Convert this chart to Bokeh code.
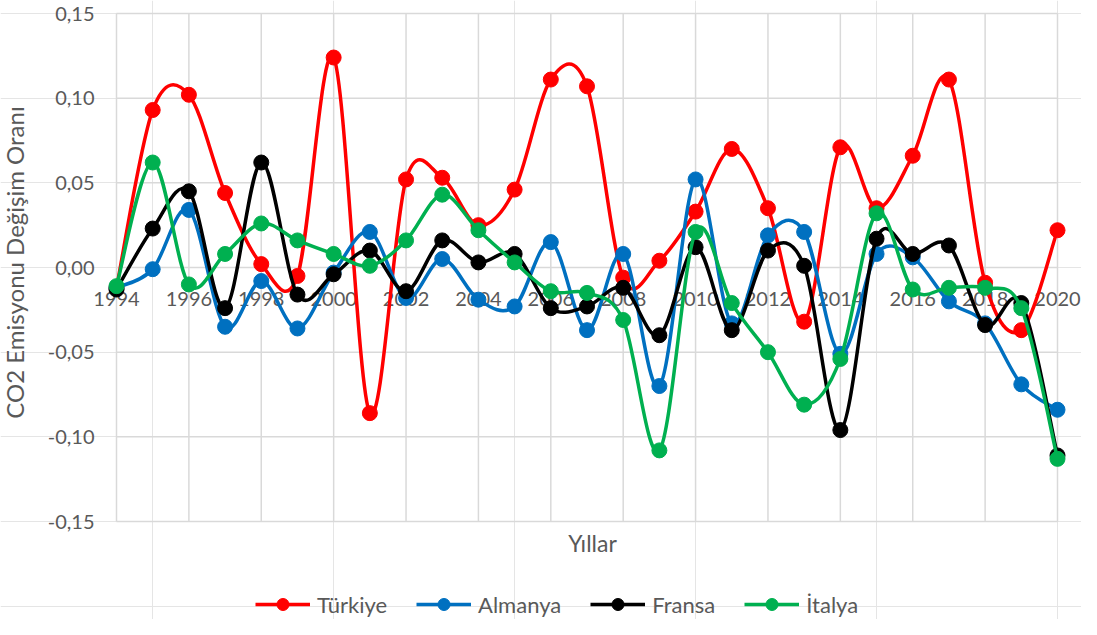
import numpy as np
from bokeh.plotting import figure
from bokeh.models import (ColumnDataSource, Label, Legend, LegendItem, Range1d)
from bokeh.core.properties import value
from bokeh.embed import file_html
from bokeh.resources import INLINE

# ---------------- data ----------------
years = list(range(1994, 2021))
turkiye = [-0.012, 0.093, 0.102, 0.044, 0.002, -0.005, 0.124, -0.086, 0.052,
           0.053, 0.025, 0.046, 0.111, 0.107, -0.006, 0.004, 0.033, 0.070,
           0.035, -0.032, 0.071, 0.035, 0.066, 0.111, -0.009, -0.037, 0.022]
almanya = [-0.012, -0.001, 0.034, -0.035, -0.008, -0.036, -0.003, 0.021,
           -0.018, 0.005, -0.019, -0.023, 0.015, -0.037, 0.008, -0.070, 0.052,
           -0.033, 0.019, 0.021, -0.051, 0.008, 0.006, -0.020, -0.033, -0.069,
           -0.084]
fransa = [-0.013, 0.023, 0.045, -0.024, 0.062, -0.016, -0.004, 0.010, -0.014,
          0.016, 0.003, 0.008, -0.024, -0.023, -0.012, -0.040, 0.012, -0.037,
          0.010, 0.001, -0.096, 0.017, 0.008, 0.013, -0.034, -0.021, -0.111]
italya = [-0.011, 0.062, -0.010, 0.008, 0.026, 0.016, 0.008, 0.001, 0.016,
          0.043, 0.022, 0.003, -0.014, -0.015, -0.031, -0.108, 0.021, -0.021,
          -0.050, -0.081, -0.054, 0.032, -0.013, -0.012, -0.012, -0.024,
          -0.113]
series_names = ["Türkiye", "Almanya", "Fransa", "İtalya"]
series_colors = ["#FF0000", "#0070C0", "#000000", "#00B050"]

y_ticks = [-0.15, -0.10, -0.05, 0.0, 0.05, 0.10, 0.15]
y_tick_labels = ["-0,15", "-0,10", "-0,05", "0,00", "0,05", "0,10", "0,15"]
x_tick_years = list(range(1994, 2021, 2))
x_tick_labels = [str(y) for y in x_tick_years]
x_title = "Yıllar"
y_title = "CO2 Emisyonu Değişim Oranı"

FONT = "Lato"
TXT = "#595959"
GRID = "#d9d9d9"

# ---------------- layout (pixels inside the canvas) ----------------
W, H = 1081, 619
PL, PR = 116, 1057          # plot-area left / right edge
PT, PB = 13, 521            # plot-area top / bottom edge
x0d, x1d = years[0], years[-1]
y0d, y1d = y_ticks[0], y_ticks[-1]
sx = (PR - PL) / (x1d - x0d)
sy = (PB - PT) / (y1d - y0d)
x_range = Range1d(x0d - PL / sx, x1d + (W - PR) / sx)
y_range = Range1d(y0d - (H - PB) / sy, y1d + PT / sy)


def smooth_segments(xs, ys, t=1.0 / 6.0):
    """Bezier control points for a smoothed (Catmull-Rom style) line."""
    n = len(xs)
    d = dict(x0=[], y0=[], x1=[], y1=[], cx0=[], cy0=[], cx1=[], cy1=[])
    for i in range(n - 1):
        ip = max(i - 1, 0)
        inx = min(i + 2, n - 1)
        d["x0"].append(xs[i]); d["y0"].append(ys[i])
        d["x1"].append(xs[i + 1]); d["y1"].append(ys[i + 1])
        d["cx0"].append(xs[i] + (xs[i + 1] - xs[ip]) * t)
        d["cy0"].append(ys[i] + (ys[i + 1] - ys[ip]) * t)
        d["cx1"].append(xs[i + 1] - (xs[inx] - xs[i]) * t)
        d["cy1"].append(ys[i + 1] - (ys[inx] - ys[i]) * t)
    return d


p = figure(width=W, height=H, x_range=x_range, y_range=y_range,
           output_backend="svg", toolbar_location=None,
           x_axis_location=None, y_axis_location=None,
           min_border=0)
p.outline_line_color = None
p.background_fill_color = "white"
p.border_fill_color = "white"

# gridlines confined to the plot area
p.segment(x0=x_tick_years, y0=[y0d] * len(x_tick_years),
          x1=x_tick_years, y1=[y1d] * len(x_tick_years),
          line_color=GRID, line_width=1.5)
p.segment(x0=[x0d] * len(y_ticks), y0=y_ticks,
          x1=[x1d] * len(y_ticks), y1=y_ticks,
          line_color=GRID, line_width=1.5)

# y tick labels
p.text(x=[x0d] * len(y_ticks), y=y_ticks, text=y_tick_labels,
       x_offset=-22, text_align="right", text_baseline="middle",
       text_font=value(FONT), text_font_size="20px", text_color=TXT)

# x tick labels sit below the zero line
p.text(x=x_tick_years, y=[0.0] * len(x_tick_years), text=x_tick_labels,
       y_offset=31, text_align="center", text_baseline="middle",
       text_font=value(FONT), text_font_size="20px", text_color=TXT)

# axis titles
p.add_layout(Label(x=14, y=357, x_units="screen", y_units="screen",
                   text=y_title, angle=90, angle_units="deg",
                   text_align="center", text_baseline="middle",
                   text_font=FONT, text_font_size="24px", text_color=TXT))
p.add_layout(Label(x=592, y=H - 542, x_units="screen", y_units="screen",
                   text=x_title, text_align="center", text_baseline="middle",
                   text_font=FONT, text_font_size="23px", text_color=TXT))

items = []
for name, vals, col in zip(series_names, [turkiye, almanya, fransa, italya],
                           series_colors):
    seg = ColumnDataSource(smooth_segments(years, vals))
    r_line = p.bezier(x0="x0", y0="y0", x1="x1", y1="y1", cx0="cx0",
                      cy0="cy0", cx1="cx1", cy1="cy1", source=seg,
                      line_color=col, line_width=3.5)
    r_pts = p.scatter(years, vals, size=15, fill_color=col, line_color=col,
                      marker="circle")
    items.append(LegendItem(label=name, renderers=[r_line, r_pts]))

legend = Legend(items=items, orientation="horizontal", location=(255, 0),
                glyph_width=55, glyph_height=30, label_standoff=7, spacing=29,
                padding=0, margin=0, border_line_color=None,
                background_fill_alpha=0, label_text_font=FONT,
                label_text_font_size="22px", label_text_color=TXT)
p.add_layout(legend)

open("out.html", "w").write(file_html(p, INLINE))
